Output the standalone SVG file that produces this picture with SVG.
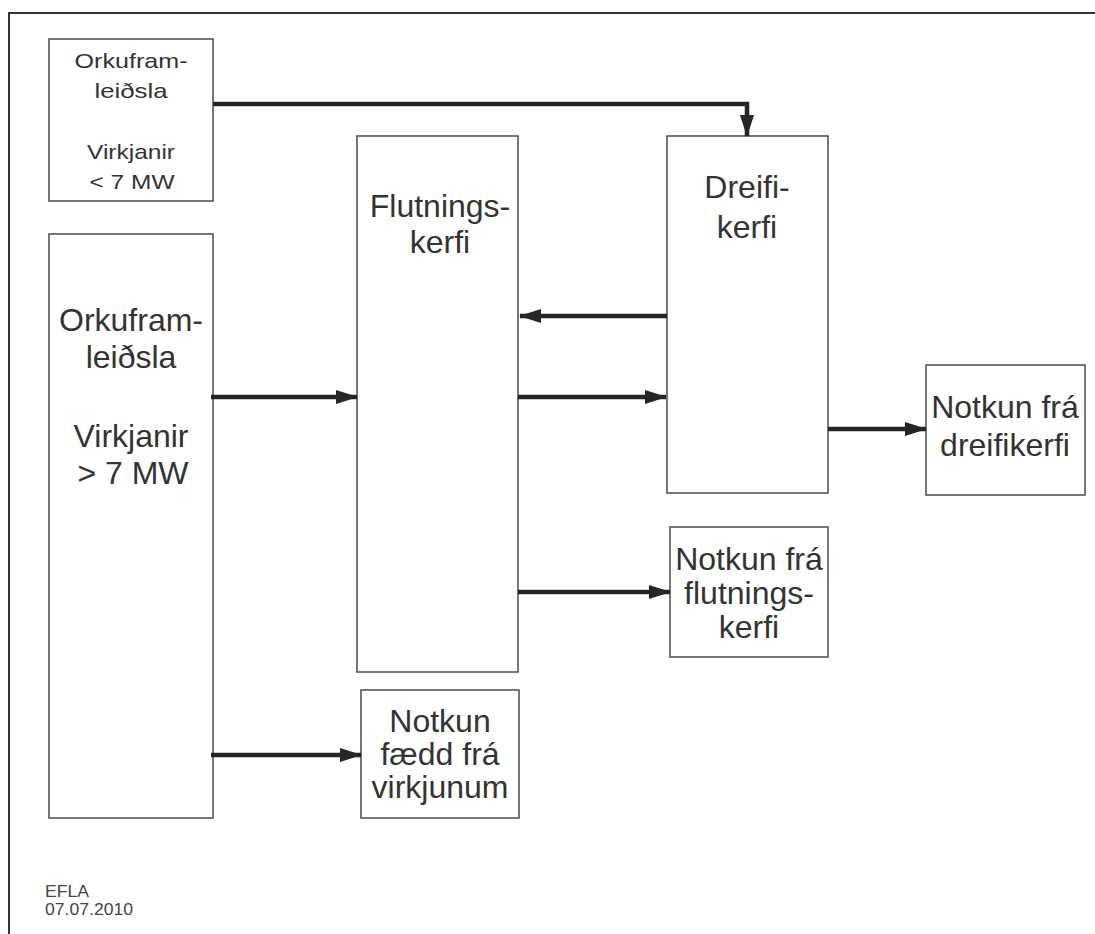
<svg xmlns="http://www.w3.org/2000/svg" width="1095" height="934" viewBox="0 0 1095 934">
<style>
.box{fill:#fff;stroke:#555;stroke-width:1.6}
.t{font-family:"Liberation Sans",Arial,sans-serif;fill:#333;text-anchor:middle}
.big{font-size:32px}
.sm{font-size:21px}
.ft{font-family:"Liberation Sans",Arial,sans-serif;fill:#444;font-size:16px}
.c{fill:none;stroke:#262626;stroke-width:4.5;stroke-linejoin:miter}
</style>
<defs>
<marker id="ah" markerUnits="userSpaceOnUse" markerWidth="22" markerHeight="14" refX="21" refY="7" orient="auto">
<path d="M0,0 L22,7 L0,14 z" fill="#262626"/>
</marker>
</defs>
<rect width="1095" height="934" fill="#fff"/>
<path d="M9,934 V13 H1095" fill="none" stroke="#333" stroke-width="2"/>
<g id="n_small">
<rect class="box" x="49" y="39" width="164" height="162"/>
<text class="t sm" x="131" y="68" textLength="113" lengthAdjust="spacingAndGlyphs">Orkufram-</text>
<text class="t sm" x="131" y="98" textLength="73" lengthAdjust="spacingAndGlyphs">leiðsla</text>
<text class="t sm" x="131" y="159" textLength="88" lengthAdjust="spacingAndGlyphs">Virkjanir</text>
<text class="t sm" x="132" y="189" textLength="85" lengthAdjust="spacingAndGlyphs">&lt; 7 MW</text>
</g>
<g id="n_big">
<rect class="box" x="49" y="234" width="164" height="584"/>
<text class="t big" x="131" y="331">Orkufram-</text>
<text class="t big" x="131" y="368">leiðsla</text>
<text class="t big" x="131" y="447">Virkjanir</text>
<text class="t big" x="133" y="484">&gt; 7 MW</text>
</g>
<g id="n_flutnings">
<rect class="box" x="357" y="136" width="161" height="536"/>
<text class="t big" x="440" y="217">Flutnings-</text>
<text class="t big" x="440" y="253">kerfi</text>
</g>
<g id="n_dreifi">
<rect class="box" x="667" y="136" width="161" height="357"/>
<text class="t big" x="747" y="198">Dreifi-</text>
<text class="t big" x="747" y="238">kerfi</text>
</g>
<g id="n_notkun_dreifi">
<rect class="box" x="926" y="365" width="159" height="130"/>
<text class="t big" x="1005" y="418">Notkun frá</text>
<text class="t big" x="1005" y="456">dreifikerfi</text>
</g>
<g id="n_notkun_flutn">
<rect class="box" x="670" y="527" width="158" height="130"/>
<text class="t big" x="749" y="570">Notkun frá</text>
<text class="t big" x="749" y="604">flutnings-</text>
<text class="t big" x="749" y="638">kerfi</text>
</g>
<g id="n_notkun_faedd">
<rect class="box" x="361" y="690" width="158" height="128"/>
<text class="t big" x="440" y="732">Notkun</text>
<text class="t big" x="440" y="765">fædd frá</text>
<text class="t big" x="440" y="798">virkjunum</text>
</g>
<g id="connectors">
<path class="c" d="M213,104 H747 V136" marker-end="url(#ah)"/>
<path class="c" d="M667,316 H520" marker-end="url(#ah)"/>
<path class="c" d="M518,397 H666" marker-end="url(#ah)"/>
<path class="c" d="M211,397 H357" marker-end="url(#ah)"/>
<path class="c" d="M828,429 H926" marker-end="url(#ah)"/>
<path class="c" d="M518,592 H670" marker-end="url(#ah)"/>
<path class="c" d="M211,755 H361" marker-end="url(#ah)"/>
</g>
<text class="ft" x="45" y="897" textLength="44" lengthAdjust="spacingAndGlyphs">EFLA</text>
<text class="ft" x="45" y="915" textLength="88" lengthAdjust="spacingAndGlyphs">07.07.2010</text>
</svg>
